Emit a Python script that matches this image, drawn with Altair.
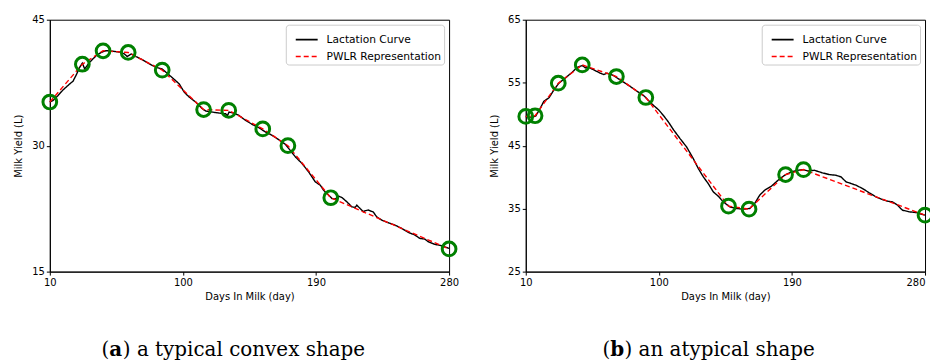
import altair as alt
import pandas as pd

SERIES = ["Lactation Curve", "PWLR Representation"]

# ---------- Panel (a): typical convex shape ----------
a_curve_day = [10, 12.2, 15.6, 19.0, 23.5, 25.7, 28.0, 30.2, 32.0, 33.6, 36.9, 41.4, 44.8, 48.2,
               52.6, 58.2, 60.5, 62.3, 65.0, 68.3, 72.8, 77.3, 81.8, 85.9, 88.5, 93.0, 97.5,
               100.9, 104.3, 108.7, 113.2, 115.5, 120.0, 124.5, 128.9, 130.1, 131.2, 134.6,
               137.9, 142.4, 146.9, 151.4, 155.9, 160.4, 164.8, 169.3, 171.6, 176.1, 180.6,
               185.0, 187.3, 189.5, 192.9, 195.1, 198.5, 200.8, 203.0, 205.2, 207.5, 210.9,
               214.2, 216.5, 217.6, 219.8, 222.1, 223.2, 225.4, 228.8, 231.0, 234.4, 238.9,
               243.4, 247.9, 252.4, 256.9, 260.2, 263.6, 265.8, 270.3, 274.8, 280.0]
a_curve_yield = [35.19, 35.38, 35.98, 36.65, 37.36, 37.68, 38.47, 39.34, 39.82, 39.14, 39.93,
                 40.73, 41.12, 41.32, 41.24, 41.12, 40.92, 40.61, 40.92, 40.61, 40.21, 39.74,
                 39.34, 39.14, 38.75, 38.07, 37.36, 36.37, 35.78, 35.19, 34.39, 34.12, 34.00,
                 33.88, 33.80, 33.56, 34.00, 33.88, 33.60, 33.01, 32.53, 32.14, 31.62, 31.23,
                 30.71, 30.16, 29.65, 28.66, 27.87, 26.88, 26.28, 25.69, 25.29, 24.70, 24.11,
                 23.71, 23.63, 23.99, 23.83, 23.31, 22.72, 22.64, 22.92, 22.52, 22.13, 22.25,
                 22.33, 22.09, 21.53, 21.14, 20.82, 20.54, 20.15, 19.67, 19.36, 18.96, 18.88,
                 18.57, 18.25, 18.09, 17.77]
a_bp_day = [10, 32, 46, 63, 86, 114, 131, 154, 171, 200, 280]
a_bp_yield = [35.2, 39.7, 41.3, 41.1, 39.0, 34.3, 34.2, 32.0, 30.0, 23.8, 17.7]

# ---------- Panel (b): atypical shape ----------
b_curve_day = [10, 12.2, 14.5, 16.7, 19.0, 22.3, 25.7, 29.1, 32.4, 36.9, 41.4, 44.8, 48.2, 50.4,
               52.6, 56.0, 60.5, 62.7, 65.0, 69.5, 71.7, 76.2, 80.7, 85.2, 89.7, 93.0, 96.4,
               99.8, 103.1, 106.5, 109.9, 114.4, 118.8, 123.3, 126.7, 130.1, 133.4, 136.8,
               140.2, 143.5, 148.0, 152.5, 157.0, 161.5, 164.8, 168.2, 171.6, 176.1, 180.6,
               185.0, 189.5, 194.0, 197.4, 200.8, 205.2, 210.8, 215.3, 219.8, 223.2, 226.6,
               228.8, 233.3, 237.8, 242.3, 246.8, 251.2, 254.6, 258.0, 261.4, 264.7, 269.2,
               273.7, 280.0]
b_curve_yield = [49.64, 49.54, 49.54, 49.70, 50.59, 52.07, 52.60, 53.87, 54.92, 55.77, 56.66,
                 57.45, 57.72, 57.35, 57.45, 57.03, 56.50, 56.29, 56.50, 56.13, 55.77, 55.08,
                 54.39, 53.65, 52.97, 52.18, 51.39, 50.70, 49.80, 48.75, 47.53, 46.11, 44.79,
                 42.94, 41.36, 40.04, 38.98, 37.67, 36.98, 36.08, 35.29, 35.03, 34.92, 35.03,
                 35.82, 37.14, 37.93, 38.56, 39.51, 40.30, 40.83, 41.09, 41.20, 40.99, 41.09,
                 40.67, 40.41, 40.30, 40.04, 39.25, 39.09, 38.72, 38.19, 37.51, 36.87, 36.45,
                 36.19, 36.08, 35.55, 34.76, 34.50, 34.39, 33.97]
b_bp_day = [10, 16.3, 32.0, 48.2, 71.3, 91.2, 147.1, 161.0, 185.7, 197.8, 280]
b_bp_yield = [49.64, 49.75, 54.92, 57.82, 55.98, 52.65, 35.40, 34.92, 40.41, 41.20, 33.97]

x_ticks = [10, 100, 190, 280]
a_y_ticks = [15, 30, 45]
b_y_ticks = [25, 35, 45, 55, 65]

a_caption = ["(", "a", ") a typical convex shape"]
b_caption = ["(", "b", ") an atypical shape"]

W, H = 401, 253
CAP_Y = H + 85


def caption_layers(parts, x0, bold_w):
    cap_font = dict(font="DejaVu Serif", fontSize=20, color="black", baseline="alphabetic",
                    align="left")
    xs = [x0, x0 + 7.8, x0 + 7.8 + bold_w]
    weights = ["normal", "bold", "normal"]
    out = []
    for txt, xx, wt in zip(parts, xs, weights):
        out.append(
            alt.Chart(pd.DataFrame({"t": [txt]})).mark_text(fontWeight=wt, **cap_font).encode(
                text="t:N", x=alt.value(xx), y=alt.value(CAP_Y)
            )
        )
    return out


def panel(cd, cy, bd, by, ydom, yticks, caption, cap_x0, bold_w, flush_last):
    curve = pd.DataFrame({"day": cd, "yield": cy, "series": SERIES[0], "order": range(len(cd))})
    pw = pd.DataFrame({"day": bd, "yield": by, "series": SERIES[1], "order": range(len(bd))})
    lines_df = pd.concat([curve, pw], ignore_index=True)
    pts_df = pd.DataFrame({"day": bd, "yield": by})

    xaxis_kw = dict(values=x_ticks, title="Days In Milk (day)", labelFlush=False)
    if flush_last:
        xaxis_kw["labelAlign"] = {"condition": {"test": "datum.value == 280", "value": "right"},
                                  "value": "center"}
    x = alt.X("day:Q", scale=alt.Scale(domain=[10, 280], nice=False, zero=False),
              axis=alt.Axis(**xaxis_kw))
    y = alt.Y("yield:Q", scale=alt.Scale(domain=ydom, nice=False, zero=False),
              axis=alt.Axis(values=yticks, title="Milk Yield (L)", labelFlush=False))

    legend = alt.Legend(title=None, orient="top-right", offset=5, symbolType="stroke",
                        symbolSize=484, symbolStrokeWidth=1.6, symbolOffset=6,
                        labelFont="DejaVu Sans", labelFontSize=10.7, labelColor="black",
                        fillColor="white", strokeColor="#cccccc", cornerRadius=3, padding=3,
                        rowPadding=0, labelOffset=8)
    lines = alt.Chart(lines_df).mark_line(strokeWidth=1.4).encode(
        x=x, y=y,
        color=alt.Color("series:N", scale=alt.Scale(domain=SERIES, range=["black", "#ff0000"]),
                        legend=legend),
        strokeDash=alt.StrokeDash("series:N",
                                  scale=alt.Scale(domain=SERIES, range=[[1, 0], [5, 3]]),
                                  legend=legend),
        order="order:Q",
    )
    pts = alt.Chart(pts_df).mark_point(shape="circle", filled=False, size=190,
                                       strokeWidth=3, color="#008000", opacity=1).encode(x=x, y=y)
    caps = caption_layers(caption, cap_x0, bold_w)
    return alt.layer(lines, pts, *caps).properties(width=W, height=H)


left = panel(a_curve_day, a_curve_yield, a_bp_day, a_bp_yield, [15, 45], a_y_ticks,
             a_caption, 52, 13.5, False)
right = panel(b_curve_day, b_curve_yield, b_bp_day, b_bp_yield, [25, 65], b_y_ticks,
              b_caption, 77, 14.3, True)

chart = alt.hconcat(left, right, spacing=77, bounds="flush").resolve_scale(
    color="independent", strokeDash="independent", x="independent", y="independent"
).resolve_legend(color="independent", strokeDash="independent").properties(
    padding={"left": 5, "top": 5, "right": -9, "bottom": 0}
).configure_view(
    stroke="black", strokeWidth=1
).configure_axis(
    labelFont="DejaVu Sans", labelFontSize=10, labelColor="black", labelPadding=2,
    titleFont="DejaVu Sans", titleFontSize=10, titleFontWeight="normal", titleColor="black",
    domainColor="black", tickColor="black", tickSize=3.5, grid=False
).configure_axisY(titlePadding=8).configure_axisX(titlePadding=4)

chart.save("out.html", embed_options={"renderer": "svg", "actions": False})
